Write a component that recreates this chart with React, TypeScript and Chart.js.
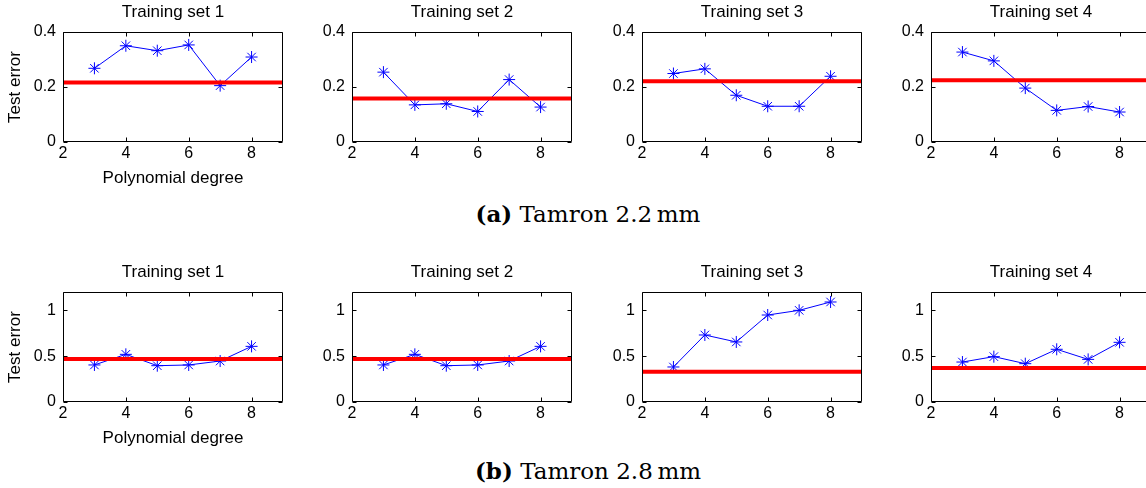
import React, { useEffect, useRef } from 'react';
import { Chart, registerables } from 'chart.js';

Chart.register(...registerables);

// ---------- data ----------
const degrees = [3, 4, 5, 6, 7, 8];
const xTicks = [2, 4, 6, 8];
const topYTicks = [0, 0.2, 0.4];
const bottomYTicks = [0, 0.5, 1];
const panelTitles = ['Training set 1', 'Training set 2', 'Training set 3', 'Training set 4'];

// Tamron 2.2 mm (row a)
const t22Set1 = [0.268, 0.35, 0.332, 0.353, 0.205, 0.309];
const t22Set2 = [0.254, 0.135, 0.139, 0.111, 0.227, 0.127];
const t22Set3 = [0.249, 0.266, 0.17, 0.13, 0.13, 0.239];
const t22Set4 = [0.327, 0.295, 0.196, 0.115, 0.129, 0.109];
const t22Baselines = [0.216, 0.158, 0.221, 0.225];

// Tamron 2.8 mm (row b)
const t28Set1 = [0.404, 0.52, 0.396, 0.404, 0.447, 0.607];
const t28Set2 = [0.404, 0.52, 0.396, 0.404, 0.447, 0.607];
const t28Set3 = [0.382, 0.731, 0.655, 0.949, 1.0, 1.091];
const t28Set4 = [0.436, 0.495, 0.418, 0.575, 0.465, 0.651];
const t28Baselines = [0.469, 0.469, 0.331, 0.371];

// ---------- layout ----------
const PLOT_LEFTS = [63, 352, 642, 931];
const PLOT_W = 221;
const PLOT_H = 110;
const Y_AXIS_W = 60;
const TITLE_H = 32;
const X_AXIS_H = 48;
const RIGHT_PAD = 6;
const ROW_PLOT_TOPS = [32, 292];

const SANS = '"Liberation Sans", Arial, Helvetica, sans-serif';

const framePlugin = {
  id: 'matlabFrame',
  afterDraw(chart: any) {
    const { ctx, chartArea: a, scales } = chart;
    const l = Math.round(a.left) + 0.5;
    const r = Math.round(a.right) - 0.5;
    const t = Math.round(a.top) + 0.5;
    const b = Math.round(a.bottom) - 0.5;
    const tl = 4;
    ctx.save();
    ctx.strokeStyle = '#000';
    ctx.lineWidth = 1;
    ctx.beginPath();
    ctx.rect(l, t, r - l, b - t);
    scales.x.ticks.forEach((tk: any) => {
      const px = Math.round(scales.x.getPixelForValue(tk.value)) + 0.5;
      ctx.moveTo(px, b);
      ctx.lineTo(px, b - tl);
      ctx.moveTo(px, t);
      ctx.lineTo(px, t + tl);
    });
    scales.y.ticks.forEach((tk: any) => {
      const py = Math.round(scales.y.getPixelForValue(tk.value)) + 0.5;
      ctx.moveTo(l, py);
      ctx.lineTo(l + tl, py);
      ctx.moveTo(r, py);
      ctx.lineTo(r - tl, py);
    });
    ctx.stroke();
    ctx.restore();
  },
};

type PanelProps = {
  left: number;
  top: number;
  title: string;
  values: number[];
  baseline: number;
  yMax: number;
  yTicks: number[];
  showLabels: boolean;
};

function Panel({ left, top, title, values, baseline, yMax, yTicks, showLabels }: PanelProps) {
  const ref = useRef<HTMLCanvasElement | null>(null);
  const width = Y_AXIS_W + PLOT_W + RIGHT_PAD;
  const height = TITLE_H + PLOT_H + X_AXIS_H;

  useEffect(() => {
    if (!ref.current) return;
    const chart = new Chart(ref.current, {
      type: 'line',
      data: {
        datasets: [
          {
            data: [
              { x: 2, y: baseline },
              { x: 9, y: baseline },
            ],
            borderColor: '#ff0000',
            borderWidth: 4,
            pointRadius: 0,
            fill: false,
          },
          {
            data: degrees.map((d, i) => ({ x: d, y: values[i] })),
            borderColor: '#0000ff',
            borderWidth: 1,
            pointStyle: 'star',
            pointRadius: 6,
            pointBorderWidth: 1,
            pointBorderColor: '#0000ff',
            pointBackgroundColor: '#0000ff',
            fill: false,
            tension: 0,
          },
        ],
      },
      options: {
        responsive: false,
        animation: false,
        devicePixelRatio: 1,
        events: [],
        layout: { padding: { left: 0, right: RIGHT_PAD, top: 0, bottom: 0 } },
        plugins: {
          legend: { display: false },
          tooltip: { enabled: false },
          title: {
            display: true,
            fullSize: false,
            text: title,
            color: '#000',
            font: { family: SANS, size: 17, weight: 'normal', lineHeight: 1.2 },
            padding: { top: 2, bottom: 9.6 },
          },
        },
        scales: {
          x: {
            type: 'linear',
            min: 2,
            max: 9,
            afterBuildTicks: (s: any) => {
              s.ticks = xTicks.map((v) => ({ value: v }));
            },
            afterFit: (s: any) => {
              s.height = X_AXIS_H;
            },
            grid: { display: false, drawTicks: false },
            border: { display: false },
            ticks: {
              color: '#000',
              font: { family: SANS, size: 16 },
              padding: 2,
              maxRotation: 0,
              autoSkip: false,
              callback: (v: any) => String(v),
            },
            title: {
              display: showLabels,
              text: 'Polynomial degree',
              color: '#000',
              font: { family: SANS, size: 17, lineHeight: 1.2 },
              padding: { top: 0, bottom: 1 },
            },
          },
          y: {
            type: 'linear',
            min: 0,
            max: yMax,
            afterBuildTicks: (s: any) => {
              s.ticks = yTicks.map((v) => ({ value: v }));
            },
            afterFit: (s: any) => {
              s.width = Y_AXIS_W;
            },
            grid: { display: false, drawTicks: false },
            border: { display: false },
            ticks: {
              color: '#000',
              font: { family: SANS, size: 16 },
              padding: 7,
              autoSkip: false,
              callback: (v: any) => String(v),
            },
            title: {
              display: showLabels,
              text: 'Test error',
              color: '#000',
              font: { family: SANS, size: 17, lineHeight: 1.2 },
              padding: { top: 2.3, bottom: 0 },
            },
          },
        },
      },
      plugins: [framePlugin],
    } as any);
    return () => chart.destroy();
  }, [title, values, baseline, yMax, yTicks, showLabels]);

  return (
    <canvas
      ref={ref}
      width={width}
      height={height}
      style={{ position: 'absolute', left, top, width, height }}
    />
  );
}

const rowA = [t22Set1, t22Set2, t22Set3, t22Set4];
const rowB = [t28Set1, t28Set2, t28Set3, t28Set4];

const captionStyle: React.CSSProperties = {
  position: 'absolute',
  left: 588,
  transform: 'translateX(-50%)',
  fontFamily: '"DejaVu Serif", serif',
  fontSize: 23,
  lineHeight: '23px',
  whiteSpace: 'nowrap',
  color: '#000',
};

export default function App() {
  return (
    <div
      style={{
        position: 'absolute',
        left: 0,
        top: 0,
        width: 1146,
        height: 488,
        overflow: 'hidden',
        background: '#fff',
      }}
    >
      {rowA.map((vals, i) => (
        <Panel
          key={'a' + i}
          left={PLOT_LEFTS[i] - Y_AXIS_W}
          top={ROW_PLOT_TOPS[0] - TITLE_H}
          title={panelTitles[i]}
          values={vals}
          baseline={t22Baselines[i]}
          yMax={0.4}
          yTicks={topYTicks}
          showLabels={i === 0}
        />
      ))}
      {rowB.map((vals, i) => (
        <Panel
          key={'b' + i}
          left={PLOT_LEFTS[i] - Y_AXIS_W}
          top={ROW_PLOT_TOPS[1] - TITLE_H}
          title={panelTitles[i]}
          values={vals}
          baseline={t28Baselines[i]}
          yMax={1.2}
          yTicks={bottomYTicks}
          showLabels={i === 0}
        />
      ))}
      <div style={{ ...captionStyle, top: 202 }}>
        <b>(a)</b> Tamron 2.2{'\u2009'}mm
      </div>
      <div style={{ ...captionStyle, top: 459 }}>
        <b>(b)</b> Tamron 2.8{'\u2009'}mm
      </div>
    </div>
  );
}
